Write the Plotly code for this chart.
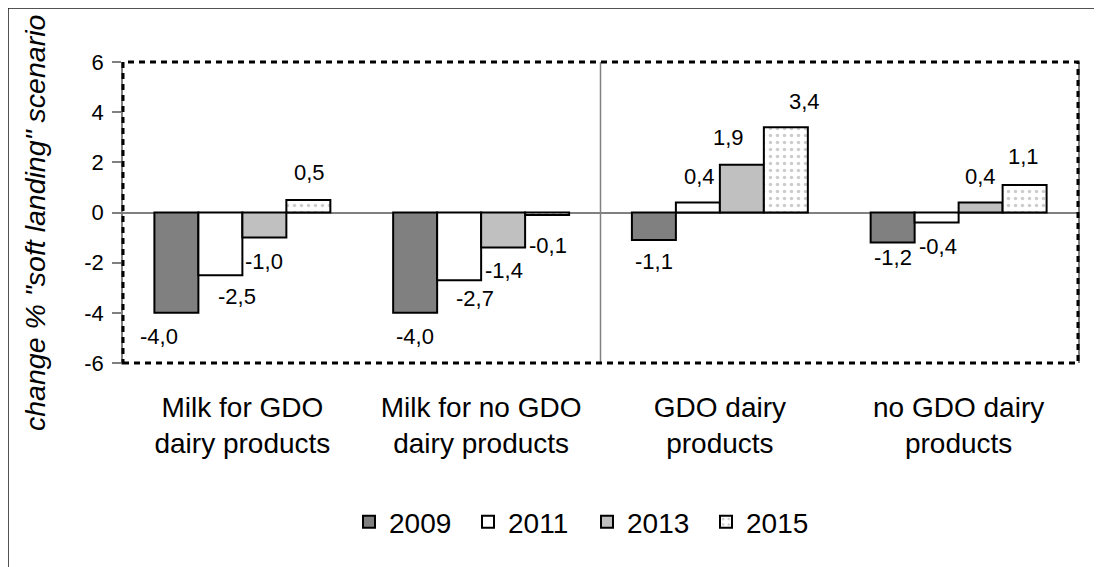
import plotly.graph_objects as go

FONT = "Liberation Sans, Arial, sans-serif"
BLACK = "#000000"
GREY = "#808080"

categories = [
    "Milk for GDO<br>dairy products",
    "Milk for no GDO<br>dairy products",
    "GDO dairy<br>products",
    "no GDO dairy<br>products",
]
years = ["2009", "2011", "2013", "2015"]
values_2009 = [-4.0, -4.0, -1.1, -1.2]
values_2011 = [-2.5, -2.7, 0.4, -0.4]
values_2013 = [-1.0, -1.4, 1.9, 0.4]
values_2015 = [0.5, -0.1, 3.4, 1.1]
series = [values_2009, values_2011, values_2013, values_2015]
y_ticks = [-6, -4, -2, 0, 2, 4, 6]

# label nudges (px): horizontal shift from bar centre, distance beyond bar end
label_dx = [
    [-17, 0, 0, 0],
    [17, 16, 2, 1],
    [0, 1, -13, 0],
    [1, 1, 19, -1],
]
label_dist = [
    [24, 24, 21, 15],
    [21, 18, 26, 24],
    [24, 23, 27, 26],
    [27, 30, 26, 28],
]

# ── layout geometry (page body has an 8px margin) ───────────────────────
PAD = 8
W, H = 1102 - PAD, 567 - PAD
ML, MR, MT, MB = 123 - PAD, 24, 62 - PAD, 204
BARGAP = 0.263
plot_w = W - ML - MR
plot_h = H - MT - MB
bar_px = plot_w / len(categories) * (1 - BARGAP) / len(years)


def px_x(x):
    """page pixel -> paper x"""
    return (x - PAD - ML) / plot_w


def px_y(y):
    """page pixel -> paper y"""
    return (MT + plot_h - (y - PAD)) / plot_h


fills = [
    dict(color=GREY),
    dict(color="white"),
    dict(color="#C0C0C0"),
    dict(color="white", pattern=dict(shape=".", fgcolor="#9a9a9a",
                                     bgcolor="white", size=7, solidity=0.2)),
]

fig = go.Figure()
for name, vals, fill in zip(years, series, fills):
    fig.add_trace(go.Bar(
        x=categories, y=vals, name=name,
        marker=dict(**fill, line=dict(color=BLACK, width=2)),
        hoverinfo="skip",
    ))

# data labels
for i, vals in enumerate(series):
    for j, v in enumerate(vals):
        d = label_dist[i][j]
        fig.add_annotation(
            x=categories[j], y=v, xref="x", yref="y",
            text=f"{v:.1f}".replace(".", ","),
            showarrow=False, xanchor="center", yanchor="middle",
            xshift=(i - 1.5) * bar_px + label_dx[i][j],
            yshift=d if v > 0 else -d,
            font=dict(family=FONT, size=22, color=BLACK),
        )

# y title
fig.add_annotation(
    text='<i>change % "soft landing" scenario</i>',
    xref="paper", yref="paper", x=px_x(35), y=px_y(223),
    textangle=-90, showarrow=False, xanchor="center", yanchor="middle",
    font=dict(family=FONT, size=28.5, color=BLACK),
)

# divider between groups
fig.add_shape(type="line", xref="x domain", yref="y domain",
              x0=0.5, x1=0.5, y0=0, y1=1,
              line=dict(color=GREY, width=1.5), layer="below")

# dashed plot-area border
fig.add_shape(type="rect", xref="x domain", yref="y domain",
              x0=0, x1=1, y0=0, y1=1,
              line=dict(color=BLACK, width=3, dash="6px,5px"))

# outer frame (only top and left edges fall inside the picture)
fig.add_shape(type="rect", xref="paper", yref="paper",
              x0=px_x(8), x1=px_x(1130), y0=px_y(600), y1=px_y(8),
              line=dict(color="#1a1a1a", width=1.5))

fig.update_layout(
    width=W, height=H,
    margin=dict(l=ML, r=MR, t=MT, b=MB),
    paper_bgcolor="white", plot_bgcolor="white",
    font=dict(family=FONT, color=BLACK),
    barmode="group", bargap=BARGAP, bargroupgap=0,
    showlegend=True,
    legend=dict(
        orientation="h", xref="paper", yref="paper",
        x=px_x(587), y=px_y(522),
        xanchor="center", yanchor="middle",
        font=dict(family=FONT, size=28, color=BLACK),
        entrywidth=74, entrywidthmode="pixels",
        itemclick=False, itemdoubleclick=False,
    ),
    xaxis=dict(
        showgrid=False, showline=False, zeroline=False,
        ticks="outside", ticklen=19, tickcolor="rgba(0,0,0,0)",
        tickfont=dict(family=FONT, size=28, color=BLACK),
    ),
    yaxis=dict(
        range=[-6, 6], tickvals=y_ticks, ticktext=[str(t) for t in y_ticks],
        showgrid=False,
        showline=True, linecolor=GREY, linewidth=1.5, mirror=True,
        ticks="outside", ticklen=9, tickcolor=GREY, tickwidth=1.5,
        ticklabelstandoff=4,
        zeroline=True, zerolinecolor=GREY, zerolinewidth=1.5,
        tickfont=dict(family=FONT, size=22, color=BLACK),
    ),
)

fig.write_html("out.html")
